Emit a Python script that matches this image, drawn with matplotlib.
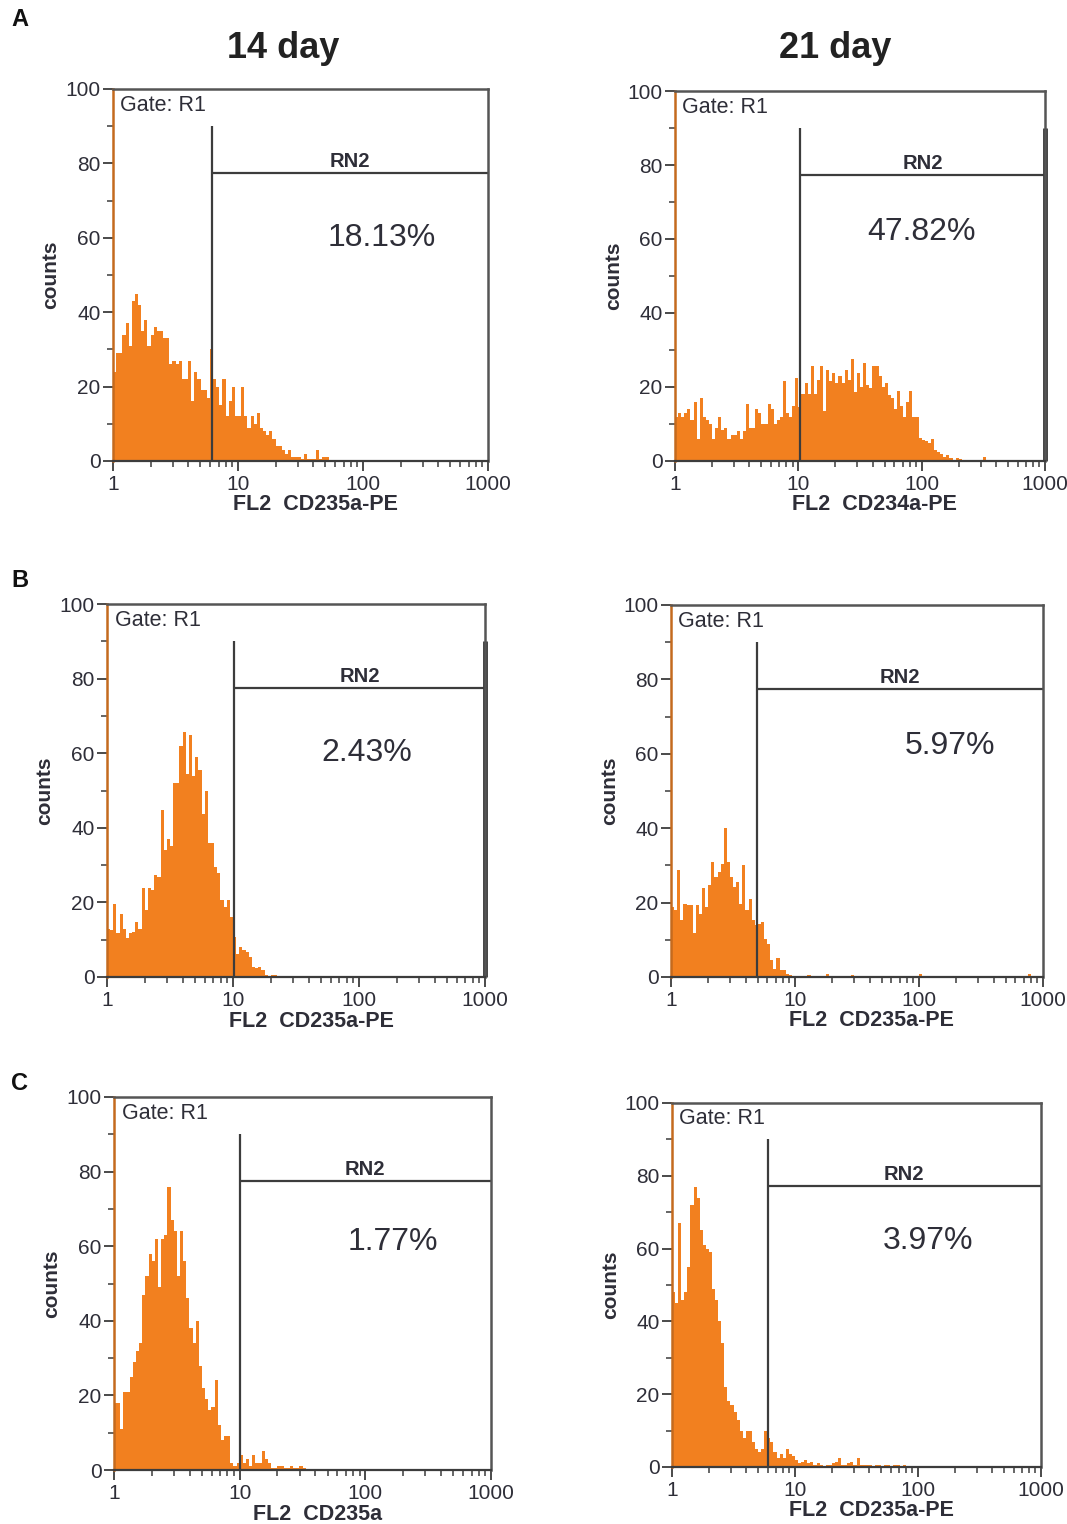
import matplotlib
matplotlib.use('Agg')
import matplotlib.pyplot as plt
import numpy as np
from matplotlib.ticker import FixedLocator, LogLocator, NullFormatter

plt.rcParams['font.family'] = ['Liberation Sans', 'DejaVu Sans']

# histogram channels: 40 bins per decade, starting at 1
BINS_PER_DECADE = 40

# --- counts per channel ---
a14_counts = [24, 29, 29, 34, 37, 31, 43, 45, 42, 35, 38, 31, 34, 36, 35, 35, 33, 33, 26, 27,
              26, 27, 22, 22, 27, 16, 24, 22, 19, 19, 17, 30, 22, 20, 15, 22, 12, 16, 20, 12,
              12, 20, 12, 9, 12, 10, 13, 9, 8, 7, 8, 6, 4, 4, 3, 2, 3, 1, 1, 1,
              0.5, 2, 0.5, 0.5, 0.5, 3, 0.5, 1, 1, 0]
a21_counts = [12, 13, 12, 13, 14, 11, 16, 6, 17, 12, 11, 10, 6, 9, 12, 8.5, 9, 6, 7, 7,
              8, 6, 8, 15.5, 9, 9, 14, 13, 10, 10, 15.5, 14, 10, 11, 12, 21.5, 13, 12, 15, 22.5,
              14.5, 18, 21, 18, 25.6, 18, 22, 25.6, 13.6, 24.7, 21.5, 23.8, 21, 23, 21, 24.7, 22, 27.5, 18.7, 23.8,
              20, 26.6, 20.5, 19.6, 25.6, 25.6, 23, 20, 21, 17.8, 16.9, 14, 19, 15, 12, 16, 19, 11.8, 11.8, 6.2,
              5.7, 5.3, 4.8, 6, 3, 2.5, 1.8, 1.1, 1.6, 0.7, 0, 0.7, 0.5, 0, 0, 0, 0, 0, 0, 0,
              1, 0]
b14_counts = [13, 12.6, 19.7, 11.7, 17, 13, 10.4, 11.7, 12, 14.8, 13, 23.8, 18, 23.8, 23.3, 27.3, 26.9, 44.7, 34, 37,
              35, 51.9, 52, 62, 65.7, 54.5, 64.8, 54, 59, 55.4, 43.8, 50, 35.8, 35.8, 29.5, 27.8, 20.6, 18.8, 20.6, 16,
              10.8, 6.3, 8, 7.2, 6.8, 5.4, 2.8, 2.3, 2.8, 1.9, 0.5, 0, 0.5, 0.5]
b21_counts = [18.8, 18, 28.7, 15.2, 19.7, 19.3, 19.3, 11.7, 19.3, 17, 23.8, 18.8, 24.7, 31, 27, 28.2, 30.5, 40, 31, 27,
              24.2, 25.6, 19.7, 30, 18, 21, 15.2, 13.9, 14.3, 14.8, 10.3, 9, 4.5, 2.2, 5, 1.8, 1.8, 0.9, 0.5, 0,
              0, 0, 0, 0, 0.5, 0, 0, 0, 0, 0, 0.7, 0, 0, 0, 0, 0, 0, 0, 0.5, 0,
              0, 0, 0, 0, 0, 0, 0, 0, 0, 0, 0, 0, 0, 0, 0, 0, 0, 0, 0, 0,
              0.7, 0, 0, 0, 0, 0, 0, 0, 0, 0, 0, 0, 0, 0, 0, 0, 0, 0, 0, 0,
              0, 0, 0, 0, 0, 0, 0, 0, 0, 0, 0, 0, 0, 0, 0, 0.7, 0]
c14_counts = [18, 18, 11, 21, 21, 25, 29, 32, 34, 47, 52, 58, 56, 62, 49, 62, 63, 76, 67, 64,
              52, 64, 56, 46, 38, 34, 40, 28, 22, 19, 16, 17, 24, 12, 8, 9, 9, 2, 1, 2,
              4, 2, 3, 1, 4, 2, 2, 5, 3, 2, 0.5, 0.5, 1, 1, 0.5, 0.5, 1, 0.5, 0.5, 1,
              0.5]
c21_counts = [48, 45, 67, 46, 48, 55, 72, 77, 74, 65, 61, 60, 59, 49, 46, 40, 34, 22, 18, 17,
              15, 13, 10, 8, 10, 10, 7, 5, 4, 5, 10, 8, 7, 4, 2.5, 3.5, 2.5, 5, 3.5, 3,
              2, 1, 1.5, 2, 1, 1.5, 0.5, 1, 0.5, 0, 0.5, 0.5, 1, 1.5, 2.5, 0.5, 0.5, 1, 1.5, 0.5,
              2.5, 0.5, 0.5, 0.5, 0.5, 0, 0.5, 0.5, 0, 0.5, 0.5, 0, 0.5, 0.5, 0, 0.5]

# marker region RN2: gate position, marker height, percentage
gate_x = [6.2, 10.4, 10.2, 4.9, 10.0, 6.0]
gate_top = [90, 90, 90, 90, 90, 90]
rn2_level = [77.4, 77.3, 77.5, 77.4, 77.5, 77.2]
pct_labels = ['18.13%', '47.82%', '2.43%', '5.97%', '1.77%', '3.97%']
pct_x = [141, 100, 115, 178, 166, 120]
pct_y = [60, 62, 60, 62, 61, 62]
x_labels = ['FL2  CD235a-PE', 'FL2  CD234a-PE', 'FL2  CD235a-PE',
            'FL2  CD235a-PE', 'FL2  CD235a', 'FL2  CD235a-PE']
thick_end = [False, True, True, False, False, False]

col_titles = ['14 day', '21 day']
row_letters = ['A', 'B', 'C']

ORANGE = '#F2801F'
LINE = '#3c3c3c'
TXT = '#2e2e38'

W, H = 1067, 1524
fig = plt.figure(figsize=(W / 100, H / 100), dpi=100, facecolor='white')

# axes boxes in pixels: left, right, top, bottom
boxes = [(113, 488, 89, 461), (675, 1045, 91, 461),
         (107, 485, 604, 977), (671, 1043, 605, 977),
         (114, 491, 1097, 1470), (672, 1041, 1103, 1467)]
all_counts = [a14_counts, a21_counts, b14_counts, b21_counts, c14_counts, c21_counts]

for i, (l, r, t, b) in enumerate(boxes):
    ax = fig.add_axes([l / W, 1 - b / H, (r - l) / W, (b - t) / H])
    counts = all_counts[i]
    edges = 10 ** (np.arange(len(counts) + 1) / BINS_PER_DECADE)
    ax.stairs(counts, edges, fill=True, color=ORANGE, linewidth=0)

    ax.set_xscale('log')
    ax.set_xlim(1, 1000)
    ax.set_ylim(0, 100)

    # gate marker
    g = gate_x[i]
    ax.vlines(g, 0, gate_top[i], color=LINE, linewidth=1.6)
    ax.hlines(rn2_level[i], g, 1000, color=LINE, linewidth=1.6)
    ax.text(np.sqrt(g * 1000), rn2_level[i] + 0.5, 'RN2', ha='center', va='bottom',
            fontsize=14.5, fontweight='bold', color=TXT)
    if thick_end[i]:
        ax.vlines(1000, 0, gate_top[i], color=LINE, linewidth=3.5, clip_on=False)
    ax.text(pct_x[i], pct_y[i], pct_labels[i], ha='center', va='center',
            fontsize=23, color=TXT)
    ax.text(0.02, 0.985, 'Gate: R1', transform=ax.transAxes, ha='left', va='top',
            fontsize=15.5, color=TXT)

    # frame
    for s in ['top', 'right']:
        ax.spines[s].set_color('#555555')
        ax.spines[s].set_linewidth(1.8)
    ax.spines['bottom'].set_color(LINE)
    ax.spines['bottom'].set_linewidth(1.6)
    ax.spines['left'].set_color('#C46A1E')
    ax.spines['left'].set_linewidth(1.8)

    # ticks
    ax.yaxis.set_major_locator(FixedLocator([0, 20, 40, 60, 80, 100]))
    ax.yaxis.set_minor_locator(FixedLocator([10, 30, 50, 70, 90]))
    ax.set_xticks([1, 10, 100, 1000])
    ax.set_xticklabels(['1', '10', '100', '1000'])
    ax.xaxis.set_minor_locator(LogLocator(base=10, subs=np.arange(2, 10)))
    ax.xaxis.set_minor_formatter(NullFormatter())
    ax.tick_params(axis='both', which='major', length=7, width=1.3, color=LINE,
                   labelsize=15, labelcolor=TXT)
    ax.tick_params(axis='both', which='minor', length=4, width=1.1, color=LINE)
    ax.tick_params(axis='y', pad=2)
    ax.tick_params(axis='x', pad=3)

    ax.set_xlabel(x_labels[i], fontsize=15.5, fontweight='bold', color=TXT)
    ax.xaxis.set_label_coords(0.54, -0.09)
    ax.set_ylabel('counts', fontsize=15, fontweight='bold', color=TXT)
    ax.yaxis.set_label_coords(-0.14, 0.5)

for j, title in enumerate(col_titles):
    fig.text([283, 835][j] / W, 1 - 48 / H, title, ha='center', va='center',
             fontsize=26, fontweight='bold', color='#222222')

for k, letter in enumerate(row_letters):
    fig.text(20 / W, 1 - [20, 580, 1083][k] / H, letter, ha='center', va='center',
             fontsize=17, fontweight='bold', color='#111111')

fig.savefig('out.png', dpi=100, facecolor='white')
